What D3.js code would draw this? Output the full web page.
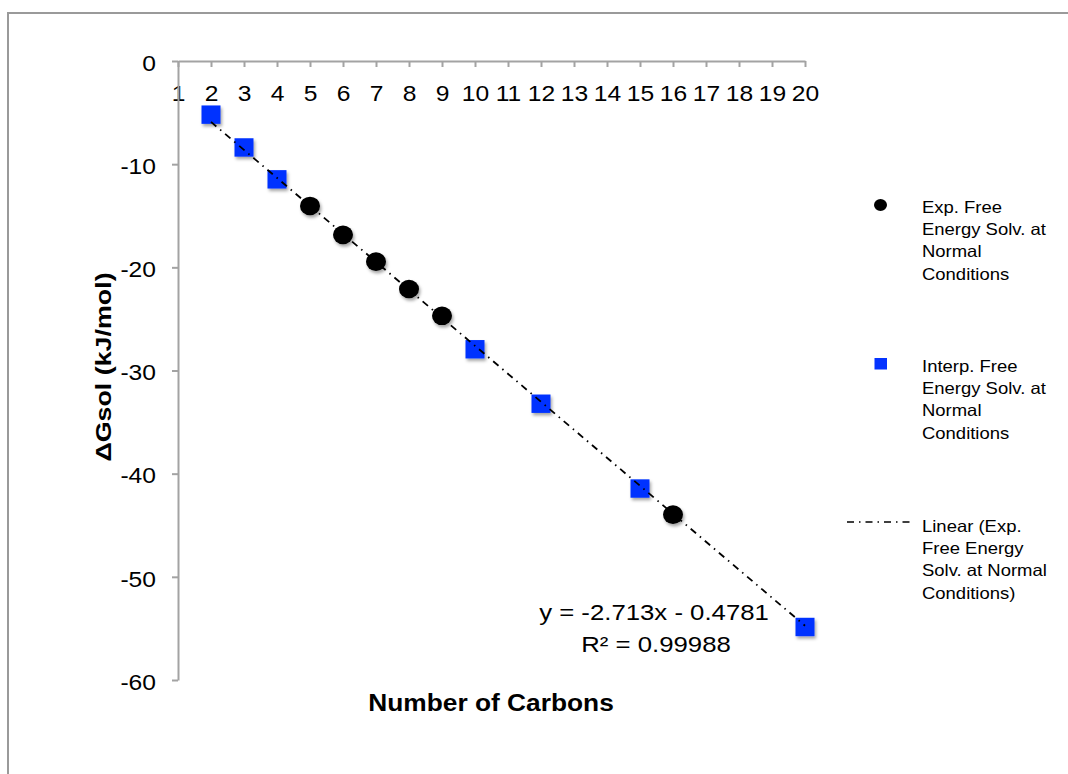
<!DOCTYPE html>
<html>
<head>
<meta charset="utf-8">
<script src="https://cdn.jsdelivr.net/npm/d3@7"></script>
<style>
  html, body { margin: 0; padding: 0; background: #fff; }
  svg { display: block; font-family: "Liberation Sans", Arial, Helvetica, sans-serif; }
</style>
</head>
<body>
<svg id="chart" width="1068" height="774"></svg>
<script>
// Experimental free energies of solvation (kJ/mol) by number of carbons
const expCarbons = [5, 6, 7, 8, 9, 16];
const expValues = [-14.05, -16.85, -19.45, -22.1, -24.7, -43.97];

// Interpolated free energies of solvation (kJ/mol)
const interpCarbons = [2, 3, 4, 10, 12, 15, 20];
const interpValues = [-5.2, -8.38, -11.47, -27.94, -33.22, -41.44, -54.86];

// Linear fit of the experimental series
const fitSlope = -2.713;
const fitIntercept = -0.4781;
const fitR2 = 0.99988;
const fitRange = [2, 20];

// Axis ticks
const xTicks = d3.range(1, 21);
const yTicks = [0, -10, -20, -30, -40, -50, -60];

const legendLabels = [
  ["Exp. Free", "Energy Solv. at", "Normal", "Conditions"],
  ["Interp. Free", "Energy Solv. at", "Normal", "Conditions"],
  ["Linear (Exp.", "Free Energy", "Solv. at Normal", "Conditions)"]
];

const svg = d3.select("#chart");
const axisGray = "#a3a3a3";
const blue = "#0433ff";
const wide = 1.12;          // horizontal widening of the text face
const dash = "7,5,1.5,5";   // dash-dot pattern of the trendline

// Outer chart frame
svg.append("rect")
  .attr("x", 8).attr("y", 13)
  .attr("width", 1100).attr("height", 800)
  .attr("fill", "none").attr("stroke", "#9a9a9a").attr("stroke-width", 2);

// Soft drop shadow for the plotted markers
const defs = svg.append("defs");
const shadow = defs.append("filter").attr("id", "markerShadow")
  .attr("x", "-50%").attr("y", "-50%").attr("width", "200%").attr("height", "200%");
shadow.append("feDropShadow")
  .attr("dx", 1.5).attr("dy", 2.5).attr("stdDeviation", 1.6)
  .attr("flood-color", "#000").attr("flood-opacity", 0.35);

const x = d3.scaleLinear().domain([1, 20]).range([178, 805]);
const y = d3.scaleLinear().domain([0, -60]).range([61, 680]);

// Horizontal text placed at (px, py), widened about its anchor
function label(px, py, str, size, opts = {}) {
  return svg.append("text")
    .attr("transform", `translate(${px},${py}) scale(${wide},1)`)
    .attr("text-anchor", opts.anchor || "start")
    .attr("font-weight", opts.weight || "normal")
    .attr("font-size", size)
    .attr("fill", "#000")
    .text(str);
}

// Category axis along the zero line
const xAxis = svg.append("g")
  .attr("transform", `translate(0,${y(0)})`)
  .call(d3.axisBottom(x).tickValues(xTicks).tickFormat(d => String(d))
    .tickSizeInner(6).tickSizeOuter(0).tickPadding(18));
xAxis.select(".domain").attr("stroke", axisGray).attr("stroke-width", 2);
xAxis.selectAll(".tick line").attr("stroke", axisGray).attr("stroke-width", 2);
xAxis.selectAll(".tick text")
  .attr("fill", "#000").attr("font-size", 22)
  .attr("font-family", "Liberation Sans, Arial, sans-serif")
  .attr("transform", `scale(${wide},1)`);

// Value axis
const yAxis = svg.append("g")
  .attr("transform", `translate(${x(1)},0)`)
  .call(d3.axisLeft(y).tickValues(yTicks).tickFormat(d => String(d))
    .tickSizeInner(6).tickSizeOuter(0).tickPadding(16));
yAxis.select(".domain").attr("stroke", axisGray).attr("stroke-width", 2);
yAxis.selectAll(".tick line").attr("stroke", axisGray).attr("stroke-width", 2);
yAxis.selectAll(".tick text")
  .attr("fill", "#000").attr("font-size", 22).attr("dy", "0.42em")
  .attr("font-family", "Liberation Sans, Arial, sans-serif")
  .attr("x", -22 / wide)
  .attr("transform", `scale(${wide},1)`);

// Axis titles
label(491, 711, "Number of Carbons", 23.5, { anchor: "middle", weight: "bold" });

svg.append("text")
  .attr("transform", `translate(111,367) rotate(-90) scale(1.22,1)`)
  .attr("text-anchor", "middle").attr("font-weight", "bold").attr("font-size", 22)
  .text("ΔGsol (kJ/mol)");

// Trendline
const fitLine = d3.line().x(d => x(d)).y(d => y(fitSlope * d + fitIntercept));

// Interpolated values (blue squares)
const sqW = 19, sqH = 18.4;
svg.append("g").attr("filter", "url(#markerShadow)")
  .selectAll("rect")
  .data(d3.zip(interpCarbons, interpValues))
  .join("rect")
  .attr("x", d => x(d[0]) - sqW / 2)
  .attr("y", d => y(d[1]) - sqH / 2)
  .attr("width", sqW).attr("height", sqH)
  .attr("fill", blue);

// Experimental values (black dots)
svg.append("g").attr("filter", "url(#markerShadow)")
  .selectAll("ellipse")
  .data(d3.zip(expCarbons, expValues))
  .join("ellipse")
  .attr("cx", d => x(d[0]))
  .attr("cy", d => y(d[1]))
  .attr("rx", 10).attr("ry", 9.3)
  .attr("fill", "#000");

// Trendline drawn over the markers
svg.append("path")
  .datum(fitRange)
  .attr("d", fitLine)
  .attr("fill", "none").attr("stroke", "#000").attr("stroke-width", 1.8)
  .attr("stroke-dasharray", dash);

// Fit equation
const fmtSigned = v => (v < 0 ? "- " : "+ ") + Math.abs(v);
label(654, 620, `y = ${fitSlope}x ${fmtSigned(fitIntercept)}`, 23, { anchor: "middle" });
label(656, 652, `R² = ${fitR2}`, 23, { anchor: "middle" });

// Legend
const legendX = 922;
const lineGap = 22.4;
const legendTops = [212.5, 371.5, 531.5];

svg.append("ellipse").attr("cx", 880.5).attr("cy", 205).attr("rx", 6.5).attr("ry", 6).attr("fill", "#000");
svg.append("rect").attr("x", 874.5).attr("y", 358).attr("width", 12.5).attr("height", 11.5).attr("fill", blue);
svg.append("line").attr("x1", 847).attr("x2", 912).attr("y1", 522).attr("y2", 522)
  .attr("stroke", "#000").attr("stroke-width", 1.6).attr("stroke-dasharray", dash);

legendLabels.forEach((lines, i) => {
  lines.forEach((ln, j) => label(legendX, legendTops[i] + j * lineGap, ln, 16.5));
});
</script>
</body>
</html>
